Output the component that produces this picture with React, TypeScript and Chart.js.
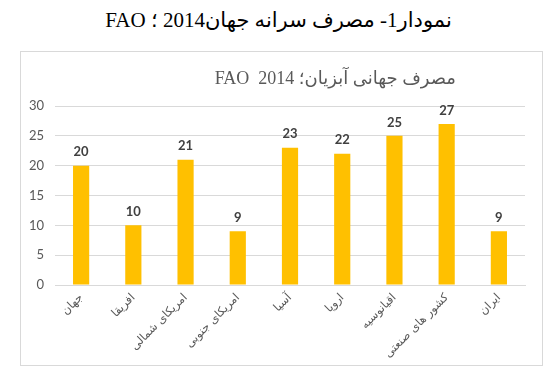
import React, { useEffect, useRef } from "react";
import { Chart, registerables } from "chart.js";

Chart.register(...registerables);

const categories = [
  "جهان",
  "افریقا",
  "امریکای شمالی",
  "امریکای جنوبی",
  "آسیا",
  "اروپا",
  "اقیانوسیه",
  "کشور های صنعتی",
  "ایران",
];
const values = [20, 10, 21, 9, 23, 22, 25, 27, 9];
const yTicks = [0, 5, 10, 15, 20, 25, 30];
const pageTitle = "نمودار1- مصرف سرانه جهان2014 ؛ FAO";
const chartTitle = "مصرف جهانی آبزیان؛ FAO  2014";

const dataLabels = {
  id: "dataLabels",
  afterDatasetsDraw(chart: any) {
    const ctx = chart.ctx;
    const meta = chart.getDatasetMeta(0);
    ctx.save();
    ctx.font = "bold 13px Lato, 'DejaVu Sans', sans-serif";
    ctx.fillStyle = "#404040";
    ctx.textAlign = "center";
    ctx.textBaseline = "bottom";
    meta.data.forEach((el: any, i: number) => {
      ctx.fillText(String(values[i]), el.x, el.y - 7);
    });
    ctx.restore();
  },
};

export default function App() {
  const ref = useRef<HTMLCanvasElement>(null);
  useEffect(() => {
    if (!ref.current) return;
    const chart = new Chart(ref.current, {
      type: "bar",
      data: {
        labels: categories,
        datasets: [
          {
            data: values,
            backgroundColor: "#FFC000",
            borderWidth: 0,
            barPercentage: 0.62,
            categoryPercentage: 0.5,
          },
        ],
      },
      options: {
        animation: false,
        responsive: false,
        maintainAspectRatio: false,
        layout: { padding: { top: 54, right: 17, left: 0, bottom: 0 } },
        plugins: { legend: { display: false }, tooltip: { enabled: false } },
        scales: {
          x: {
            grid: { display: false, drawTicks: false },
            border: { color: "#d9d9d9", width: 1 },
            ticks: {
              minRotation: 45,
              maxRotation: 45,
              autoSkip: false,
              padding: 6,
              color: "#595959",
              font: { family: "'DejaVu Sans', sans-serif", size: 11.5 },
            },
            afterFit: (s: any) => {
              s.height = 80;
            },
          },
          y: {
            min: 0,
            max: 30,
            afterBuildTicks: (s: any) => {
              s.ticks = yTicks.map((v) => ({ value: v }));
            },
            grid: { color: "#d9d9d9", drawTicks: false },
            border: { display: false },
            ticks: {
              padding: 11,
              color: "#595959",
              font: { family: "Lato, 'DejaVu Sans', sans-serif", size: 13 },
            },
            afterFit: (s: any) => {
              s.width = 34;
            },
          },
        },
      },
      plugins: [dataLabels],
    });
    return () => chart.destroy();
  }, []);

  return (
    <div
      style={{
        position: "fixed",
        left: 0,
        top: 0,
        width: 557,
        height: 387,
        background: "#fff",
      }}
    >
      <div
        dir="rtl"
        style={{
          position: "absolute",
          left: 0,
          top: 5,
          width: 557,
          textAlign: "center",
          fontFamily: "'Liberation Serif', 'DejaVu Sans', serif",
          fontSize: 21,
          color: "#000",
          lineHeight: "30px",
        }}
      >
        {pageTitle}
      </div>
      <div
        style={{
          position: "absolute",
          left: 20,
          top: 51,
          width: 521,
          height: 313,
          border: "1px solid #d9d9d9",
        }}
      >
        <canvas ref={ref} width={521} height={313} style={{ display: "block" }} />
        <div
          dir="rtl"
          style={{
            position: "absolute",
            right: 86,
            top: 13,
            whiteSpace: "pre",
            fontFamily: "'Liberation Serif', 'DejaVu Sans', serif",
            fontSize: 18,
            color: "#595959",
            lineHeight: "26px",
          }}
        >
          {chartTitle}
        </div>
      </div>
    </div>
  );
}
